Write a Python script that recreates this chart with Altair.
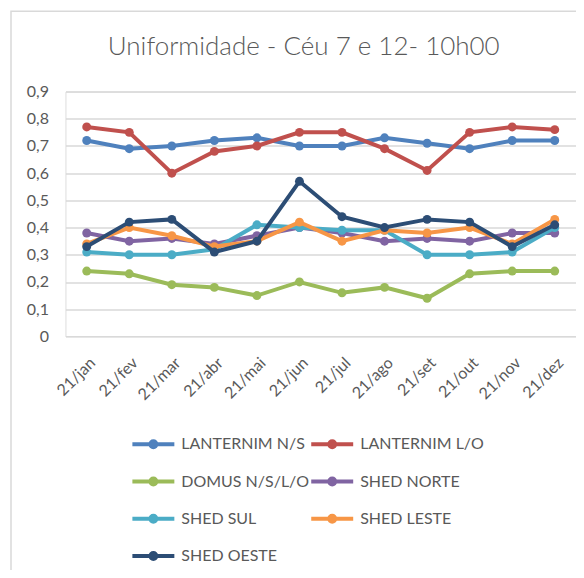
import altair as alt
import pandas as pd

months = ["21/jan", "21/fev", "21/mar", "21/abr", "21/mai", "21/jun",
          "21/jul", "21/ago", "21/set", "21/out", "21/nov", "21/dez"]
series_names = ["LANTERNIM N/S", "LANTERNIM L/O", "DOMUS N/S/L/O", "SHED NORTE",
                "SHED SUL", "SHED LESTE", "SHED OESTE"]
lanternim_ns = [0.72, 0.69, 0.70, 0.72, 0.73, 0.70, 0.70, 0.73, 0.71, 0.69, 0.72, 0.72]
lanternim_lo = [0.77, 0.75, 0.60, 0.68, 0.70, 0.75, 0.75, 0.69, 0.61, 0.75, 0.77, 0.76]
domus = [0.24, 0.23, 0.19, 0.18, 0.15, 0.20, 0.16, 0.18, 0.14, 0.23, 0.24, 0.24]
shed_norte = [0.38, 0.35, 0.36, 0.34, 0.37, 0.40, 0.38, 0.35, 0.36, 0.35, 0.38, 0.38]
shed_sul = [0.31, 0.30, 0.30, 0.32, 0.41, 0.40, 0.39, 0.39, 0.30, 0.30, 0.31, 0.40]
shed_leste = [0.34, 0.40, 0.37, 0.33, 0.35, 0.42, 0.35, 0.39, 0.38, 0.40, 0.34, 0.43]
shed_oeste = [0.33, 0.42, 0.43, 0.31, 0.35, 0.57, 0.44, 0.40, 0.43, 0.42, 0.33, 0.41]
colors = ["#4F81BD", "#C0504D", "#9BBB59", "#8064A2", "#4BACC6", "#F79646", "#2C4D75"]

all_values = [lanternim_ns, lanternim_lo, domus, shed_norte, shed_sul, shed_leste, shed_oeste]
rows = []
for name, vals in zip(series_names, all_values):
    for m, v in zip(months, vals):
        rows.append({"mes": m, "serie": name, "valor": v})
df = pd.DataFrame(rows)

FONT = "Lato"
GRAY = "#595959"
W, H = 511, 245

color_scale = alt.Scale(domain=series_names, range=colors)
legend = alt.Legend(
    title=None, orient="none", legendX=65, legendY=343, columns=2,
    direction="horizontal",
    symbolType="M-1,0L1,0M-0.14,0A0.14,0.14,0,1,1,0.14,0A0.14,0.14,0,1,1,-0.14,0",
    symbolSize=1764, symbolStrokeWidth=4, clipHeight=20, rowPadding=17.3,
    columnPadding=0, labelOffset=5, labelFont=FONT, labelFontSize=16,
    labelColor=GRAY, padding=0, labelLimit=300,
)

layers = []
for i, name in enumerate(series_names):
    layer = alt.Chart(df).transform_filter(
        alt.datum.serie == name
    ).mark_line(
        strokeWidth=4,
        point=alt.OverlayMarkDef(filled=True, size=80, opacity=1),
    ).encode(
        x=alt.X("mes:O", sort=months,
                scale=alt.Scale(type="point", padding=0.5),
                axis=alt.Axis(title=None, labelAngle=-45, labelFont=FONT,
                              labelFontSize=16, labelColor=GRAY, ticks=False,
                              domain=False, grid=False, labelPadding=18)),
        y=alt.Y("valor:Q", scale=alt.Scale(domain=[0, 0.9], nice=False),
                axis=alt.Axis(title=None, values=[0, 0.1, 0.2, 0.3, 0.4, 0.5, 0.6, 0.7, 0.8, 0.9],
                              labelExpr="datum.value == 0 ? '0' : replace(format(datum.value, '.1f'), '.', ',')",
                              labelFont=FONT, labelFontSize=16, labelColor=GRAY,
                              ticks=False, domain=False, gridColor="#D9D9D9",
                              gridWidth=1.5, labelPadding=17)),
        color=alt.Color("serie:N", scale=color_scale, sort=series_names, legend=legend),
    )
    layers.append(layer)

border = alt.Chart(pd.DataFrame({"a": [0]})).mark_rect(
    fill="transparent", stroke="#D9D9D9", strokeWidth=1.5
).encode(
    x=alt.value(-54.5), x2=alt.value(W + 20),
    y=alt.value(-80.4), y2=alt.value(H + 260),
)

chart = alt.layer(border, *layers).properties(
    width=W, height=H,
    title=alt.Title("Uniformidade - Céu 7 e 12- 10h00", font=FONT, fontSize=26,
                    fontWeight=300, color=GRAY, anchor="middle", baseline="alphabetic",
                    offset=-71, dx=-17),
    autosize="none",
    padding={"left": 57.5, "top": 83.4, "right": 0, "bottom": 234},
).configure_view(stroke=None).configure(background="white")

chart.save("out.html", embed_options={"renderer": "svg", "actions": False})
